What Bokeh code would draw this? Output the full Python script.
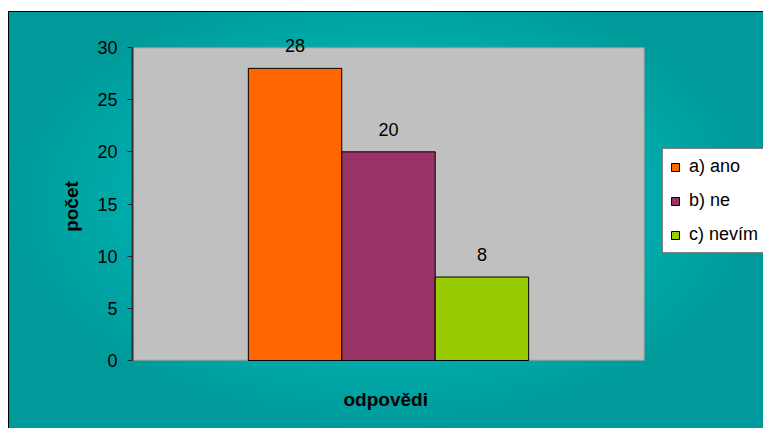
from bokeh.plotting import figure
from bokeh.models import (Range1d, FixedTicker, ColumnDataSource, LabelSet, Title,
                          Legend, LegendItem, BoxAnnotation, GlobalInlineStyleSheet)
from bokeh.core.properties import value
from bokeh.embed import file_html
from bokeh.resources import INLINE

categories = ["a) ano", "b) ne", "c) nevím"]
values = [28, 20, 8]
colors = ["#FF6600", "#993366", "#99CC00"]
y_ticks = [0, 5, 10, 15, 20, 25, 30]
y_max = 30
x_axis_title = "odpovědi"
y_axis_title = "počet"

n = len(values)
positions = [i - (n - 1) / 2 for i in range(n)]

FONT = "Liberation Sans"

# layout constants (pixels)
FIG_W, FIG_H = 755, 417
PLOT_W, PLOT_H = 512, 313          # visible grey plot area
LEFT, TOP_HEAD, BOTTOM_EXT, BOTTOM = 124, 20, 25, 43
half_span = 2.74                   # half width of grey area in bar units
frame_w = FIG_W - LEFT
x_start = -half_span
x_end = -half_span + 2 * half_span * frame_w / PLOT_W
y_start = -y_max * BOTTOM_EXT / PLOT_H
y_end = y_max * (PLOT_H + TOP_HEAD) / PLOT_H

p = figure(
    width=FIG_W, height=FIG_H,
    output_backend="svg", toolbar_location=None,
    x_range=Range1d(x_start, x_end), y_range=Range1d(y_start, y_end),
    min_border_left=LEFT,
    min_border_top=FIG_H - BOTTOM - BOTTOM_EXT - PLOT_H - TOP_HEAD,
    min_border_right=0, min_border_bottom=BOTTOM,
    background_fill_alpha=0,
    border_fill_alpha=0,
    outline_line_color=None,
    margin=(11, 0, 0, 8),
    styles={
        "background": "radial-gradient(ellipse farthest-side at 50% 46%, #00c4c4 0%, #00b6b6 50%, #009a9a 100%)",
        "box-shadow": "inset 1px 1px 0 0 black",
    },
    stylesheets=[GlobalInlineStyleSheet(css="html, body { overflow: hidden; }")],
)

plot_area = BoxAnnotation(bottom=0, top=y_max, right=half_span,
                          fill_color="#C0C0C0", fill_alpha=1,
                          line_color="#808080", line_width=2, level="underlay")
p.add_layout(plot_area)

items = []
for i in range(n):
    r = p.vbar(x=[positions[i]], top=[values[i]], width=1.0,
               fill_color=colors[i], line_color="black", line_width=1)
    items.append(LegendItem(label=categories[i], renderers=[r]))

src = ColumnDataSource(dict(x=positions, y=values, text=[str(v) for v in values]))
labels = LabelSet(x="x", y="y", text="text", source=src,
                  text_align="center", text_baseline="bottom", y_offset=16,
                  text_font=value(FONT), text_font_size="18px", text_color="black")
p.add_layout(labels)

p.xgrid.visible = False
p.ygrid.visible = False

p.xaxis.visible = False
x_title = Title(text=x_axis_title, align="left", offset=211, standoff=2,
                text_font=FONT, text_font_size="19px", text_font_style="bold",
                text_color="black")
p.add_layout(x_title, "below")

ya = p.yaxis[0]
ya.ticker = FixedTicker(ticks=y_ticks)
ya.bounds = (0, y_max)
ya.minor_tick_line_color = None
ya.major_tick_in = 0
ya.major_tick_out = 5
ya.major_tick_line_color = "#222222"
ya.axis_line_color = "#333333"
ya.axis_line_width = 2
ya.major_label_standoff = 10
ya.major_label_text_font = FONT
ya.major_label_text_font_size = "18px"
ya.major_label_text_color = "black"
ya.axis_label = y_axis_title
ya.axis_label_text_font = FONT
ya.axis_label_text_font_style = "bold"
ya.axis_label_text_font_size = "19px"
ya.axis_label_text_color = "black"
ya.axis_label_standoff = 12

legend = Legend(items=items, location=(530, 132),
                label_text_font=FONT, label_text_font_size="18px",
                label_text_color="black",
                glyph_width=10, glyph_height=10, label_standoff=9,
                label_height=20, spacing=13, padding=7, margin=0,
                border_line_color="black", border_line_width=1,
                background_fill_color="white", background_fill_alpha=1)
p.add_layout(legend)

open("out.html", "w").write(file_html(p, INLINE))
